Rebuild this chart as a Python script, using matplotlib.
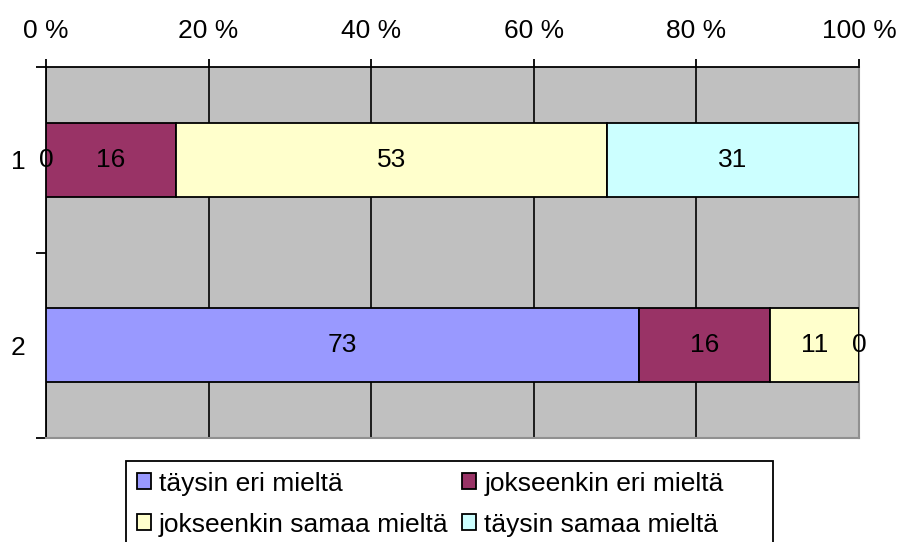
import matplotlib
matplotlib.use('Agg')
import matplotlib.pyplot as plt
from matplotlib.patches import Rectangle
import numpy as np

plt.rcParams['font.family'] = ['Liberation Sans', 'DejaVu Sans']

categories = ['1', '2']
series = ['täysin eri mieltä', 'jokseenkin eri mieltä',
          'jokseenkin samaa mieltä', 'täysin samaa mieltä']
values = {
    'täysin eri mieltä': [0, 73],
    'jokseenkin eri mieltä': [16, 16],
    'jokseenkin samaa mieltä': [53, 11],
    'täysin samaa mieltä': [31, 0],
}
colors = ['#9999FF', '#993366', '#FFFFCC', '#CCFFFF']
xticks = [0, 20, 40, 60, 80, 100]

fs = 19
fig = plt.figure(figsize=(8.99, 5.42), dpi=100)
W, H = 899, 542
ax = fig.add_axes([46 / W, 1 - 438 / H, (859 - 46) / W, (438 - 67) / H])
ax.set_facecolor('#C0C0C0')

y = np.arange(len(categories))
left = np.zeros(len(categories))
handles = []
for name, col in zip(series, colors):
    vals = np.array(values[name], dtype=float)
    bars = ax.barh(y, vals, left=left, height=0.4, color=col,
                   edgecolor='black', linewidth=1.3, label=name, zorder=3)
    # value labels centred on each segment (zero segments sit on the edge)
    for yi, l, v in zip(y, left, vals):
        ax.text(l + v / 2, yi, str(int(v)), ha='center', va='center',
                fontsize=fs, color='black', zorder=5, clip_on=False)
    handles.append(bars)
    left += vals

ax.set_xlim(0, 100)
ax.set_ylim(1.5, -0.5)

# x axis on top
ax.xaxis.tick_top()
ax.set_xticks(xticks)
ax.set_xticklabels([f'{t} %' for t in xticks], fontsize=fs)
ax.tick_params(axis='x', which='major', length=6, width=1.3, pad=11, colors='black')
ax.grid(axis='x', color='black', linewidth=1.2, zorder=1)

# y axis: ticks at category boundaries, labels at centers
ax.set_yticks([-0.5, 0.5, 1.5])
ax.set_yticklabels([])
ax.set_yticks(y, minor=True)
ax.set_yticklabels(categories, minor=True, fontsize=fs)
ax.tick_params(axis='y', which='major', length=7, width=1.3, direction='out')
ax.tick_params(axis='y', which='minor', length=0, pad=15)

ax.spines['left'].set_color('black')
ax.spines['left'].set_linewidth(1.3)
ax.spines['top'].set_color('black')
ax.spines['top'].set_linewidth(1.3)
for s in ['right', 'bottom']:
    ax.spines[s].set_color('#909090')
    ax.spines[s].set_linewidth(1.5)

# legend (column-wise fill -> reorder)
order = [0, 2, 1, 3]
leg = fig.legend([handles[i] for i in order], [series[i] for i in order],
                 loc='upper left', bbox_to_anchor=(126 / W, 1 - 461 / H),
                 ncol=2, fontsize=fs, frameon=False, borderpad=0.4,
                 handlelength=0.55, handleheight=0.55, handletextpad=0.3,
                 columnspacing=0.5, labelspacing=0.65, borderaxespad=0)
fig.patches.append(Rectangle((126 / W, -0.1), (773 - 126) / W, 0.1 + (1 - 461 / H),
                             transform=fig.transFigure, fill=False,
                             edgecolor='black', linewidth=1.3))

fig.savefig('out.png', dpi=100)
